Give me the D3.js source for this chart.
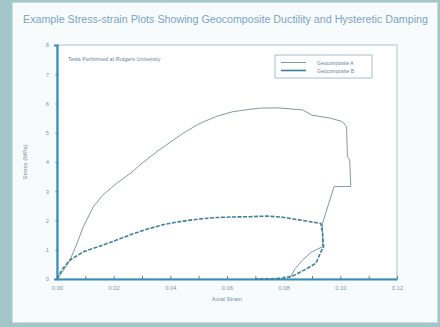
<!DOCTYPE html>
<html>
<head>
<meta charset="utf-8">
<script src="https://cdn.jsdelivr.net/npm/d3@7"></script>
<style>
  html, body { margin: 0; padding: 0; background: #a3c6c9; }
  svg { display: block; font-family: "Liberation Sans", Arial, sans-serif; }
</style>
</head>
<body>
<div id="chart"></div>
<script>
// Specimen A (thin line) - strain / stress (MPa)
const strainA = [0, 0.002, 0.0046, 0.007, 0.0093, 0.0128, 0.016, 0.021, 0.026, 0.030, 0.036, 0.0445, 0.050, 0.056, 0.062, 0.068, 0.0714, 0.078, 0.0867, 0.090, 0.0965, 0.1007, 0.1022, 0.1025, 0.1033, 0.1037, 0.0978, 0.0937, 0.0937, 0.0925, 0.0895, 0.0867, 0.084, 0.0826, 0.082]
const stressA = [0, 0.25, 0.65, 1.2, 1.79, 2.47, 2.85, 3.27, 3.62, 3.96, 4.41, 4.98, 5.3, 5.55, 5.72, 5.8, 5.84, 5.85, 5.78, 5.6, 5.5, 5.38, 5.21, 4.18, 4.07, 3.16, 3.16, 1.9, 1.1, 1.05, 0.9, 0.65, 0.35, 0.1, 0.03]

// Specimen B (thick dashed)
const strainB = [0, 0.002, 0.0046, 0.0093, 0.015, 0.021, 0.027, 0.0327, 0.0385, 0.0445, 0.05, 0.056, 0.062, 0.068, 0.0738, 0.079, 0.0855, 0.0931, 0.0937, 0.0941, 0.0937, 0.0914, 0.0875, 0.0832, 0.080, 0.076, 0.07]
const stressB = [0, 0.35, 0.65, 0.93, 1.12, 1.33, 1.55, 1.73, 1.88, 1.98, 2.05, 2.1, 2.12, 2.13, 2.15, 2.12, 2.02, 1.9, 1.6, 1.1, 1.05, 0.54, 0.32, 0.1, 0.03, 0.01, 0]

const seriesNames = ["Geocomposite A", "Geocomposite B"]
const xTicks = [0, 0.02, 0.04, 0.06, 0.08, 0.10, 0.12]
const xMinor = [0, 0.01, 0.02, 0.03, 0.04, 0.05, 0.06, 0.07, 0.08, 0.09, 0.10, 0.11, 0.12]
const yTicks = [0, 1, 2, 3, 4, 5, 6, 7, 8]

const title = "Example Stress-strain Plots Showing Geocomposite Ductility and Hysteretic Damping"
const note = "Tests Performed at Rutgers University"

const width = 440, height = 327
const margin = {left: 57, right: 43, top: 45, bottom: 48}

const svg = d3.select("#chart").append("svg")
    .attr("width", width)
    .attr("height", height)

// panel
svg.append("rect")
    .attr("x", 12.5).attr("y", 2.5)
    .attr("width", 425).attr("height", 320)
    .attr("fill", "#f8fbfc")
    .attr("stroke", "#c9dde0")

svg.append("text")
    .attr("x", 23).attr("y", 23)
    .attr("textLength", 405)
    .attr("lengthAdjust", "spacingAndGlyphs")
    .attr("font-size", 10)
    .attr("fill", "#78a4c2")
    .text(title)

const x = d3.scaleLinear().domain([0, 0.12]).range([margin.left, width - margin.right])
const y = d3.scaleLinear().domain([0, 8]).range([height - margin.bottom, margin.top])

// plot frame
svg.append("rect")
    .attr("x", x(0)).attr("y", y(8))
    .attr("width", x(0.12) - x(0)).attr("height", y(0) - y(8))
    .attr("fill", "#ffffff")
    .attr("stroke", "#c3d6de")
    .attr("stroke-width", 1.5)

// axes
const xAxis = svg.append("g")
    .attr("transform", `translate(0,${y(0)})`)
    .call(d3.axisBottom(x).tickValues(xTicks).tickFormat(d3.format(".2f")).tickSize(0).tickPadding(7))
svg.append("g")
    .attr("transform", `translate(0,${y(0)})`)
    .call(d3.axisBottom(x).tickValues(xMinor).tickFormat("").tickSize(-3))
    .call(g => g.select(".domain").remove())
    .selectAll("line").attr("stroke", "#3a8db5")

const yAxis = svg.append("g")
    .attr("transform", `translate(${x(0)},0)`)
    .call(d3.axisLeft(y).tickValues(yTicks).tickSize(3).tickPadding(5))
yAxis.selectAll("line").attr("stroke", "#3a8db5").attr("transform", "translate(1.5,0)")

;[xAxis, yAxis].forEach(g => {
    g.select(".domain").attr("stroke", "#3a8db5").attr("stroke-width", 2.2)
    g.selectAll("text").attr("fill", "#7a99aa").attr("font-size", 5.8)
        .attr("font-family", "Liberation Sans, Arial, sans-serif")
})

svg.append("text")
    .attr("x", x(0.06)).attr("y", 301)
    .attr("text-anchor", "middle")
    .attr("font-size", 6)
    .attr("fill", "#6f93a8")
    .text("Axial Strain")

svg.append("text")
    .attr("transform", `translate(27,${y(4)}) rotate(-90)`)
    .attr("text-anchor", "middle")
    .attr("font-size", 6)
    .attr("fill", "#6f93a8")
    .text("Stress (MPa)")

svg.append("text")
    .attr("x", 68).attr("y", 61)
    .attr("font-size", 5.5)
    .attr("fill", "#5f85a0")
    .text(note)

const line = d3.line().x(d => x(d[0])).y(d => y(d[1]))

svg.append("path")
    .datum(d3.zip(strainA, stressA))
    .attr("d", line)
    .attr("fill", "none")
    .attr("stroke", "#8198a8")
    .attr("stroke-width", 1)

svg.append("path")
    .datum(d3.zip(strainB, stressB))
    .attr("d", line)
    .attr("fill", "none")
    .attr("stroke", "#3f7f9c")
    .attr("stroke-width", 1.6)
    .attr("stroke-dasharray", "4,1.5")

// legend
const lg = svg.append("g").attr("transform", "translate(275,55)")
lg.append("rect")
    .attr("width", 97).attr("height", 23)
    .attr("fill", "#ffffff")
    .attr("stroke", "#a9bcc8")
lg.selectAll("line.s").data(seriesNames).join("line")
    .attr("class", "s")
    .attr("x1", 6).attr("x2", 31)
    .attr("y1", (d, i) => 7.5 + i * 8).attr("y2", (d, i) => 7.5 + i * 8)
    .attr("stroke", (d, i) => i ? "#3f7f9c" : "#8198a8")
    .attr("stroke-width", (d, i) => i ? 1.6 : 1)
lg.selectAll("text").data(seriesNames).join("text")
    .attr("x", 42).attr("y", (d, i) => 9.5 + i * 8)
    .attr("font-size", 5)
    .attr("fill", "#5f85a0")
    .text(d => d)
</script>
</body>
</html>
